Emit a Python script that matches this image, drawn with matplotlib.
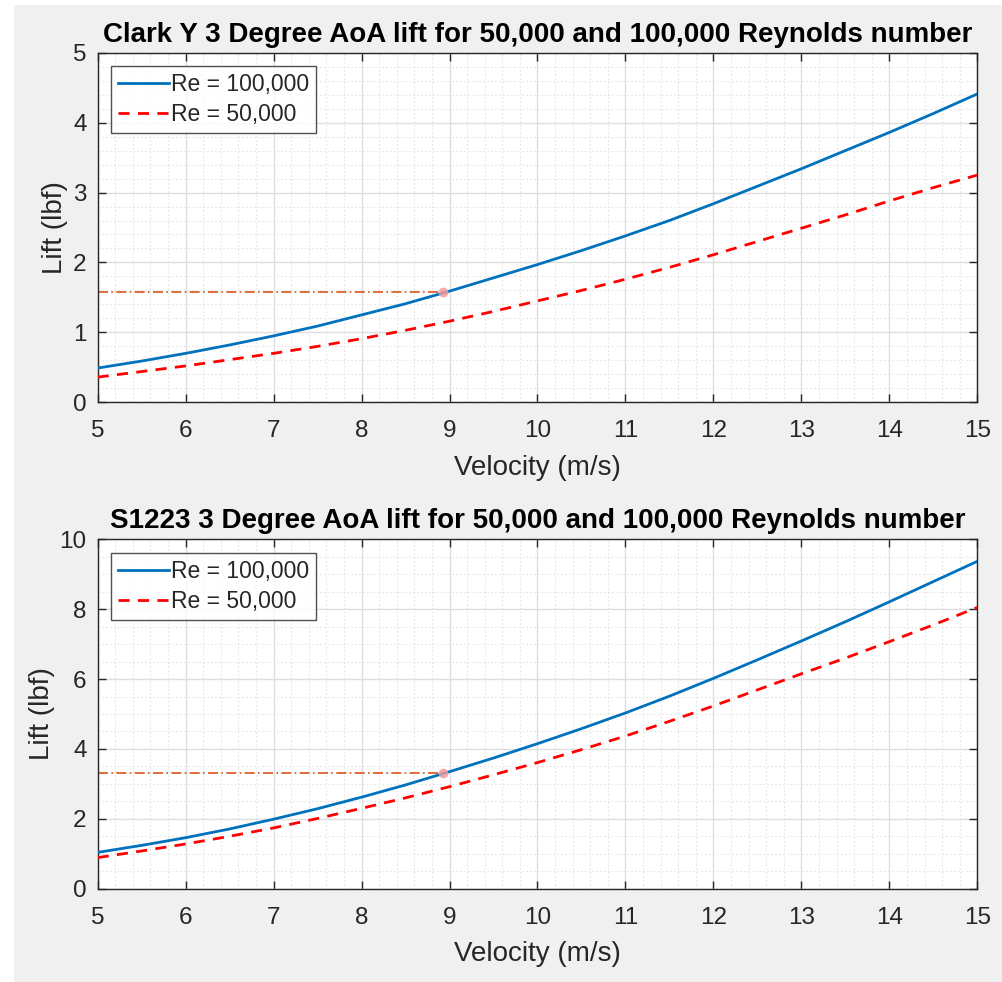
import numpy as np
import matplotlib
matplotlib.use("Agg")
import matplotlib.pyplot as plt
from matplotlib.patches import Rectangle
from matplotlib.ticker import MultipleLocator

plt.rcParams['font.family'] = ['Liberation Sans', 'DejaVu Sans']

# velocity samples (m/s)
velocity = [5.0, 5.5, 6.0, 6.5, 7.0, 7.5, 8.0, 8.5, 9.0, 9.5, 10.0,
            10.5, 11.0, 11.5, 12.0, 12.5, 13.0, 13.5, 14.0, 14.5, 15.0]

# Clark Y lift (lbf)
clark_re100k = [0.49, 0.59, 0.70, 0.82, 0.95, 1.09, 1.25, 1.41, 1.59, 1.78, 1.97,
                2.17, 2.38, 2.60, 2.84, 3.09, 3.34, 3.60, 3.86, 4.13, 4.41]
clark_re50k = [0.36, 0.44, 0.52, 0.61, 0.70, 0.80, 0.91, 1.03, 1.16, 1.30, 1.45,
               1.60, 1.76, 1.93, 2.11, 2.30, 2.49, 2.68, 2.88, 3.07, 3.25]
clark_pt = (8.93, 1.58)

# S1223 lift (lbf)
s1223_re100k = [1.04, 1.24, 1.46, 1.71, 1.99, 2.29, 2.62, 2.97, 3.35, 3.74, 4.15,
                4.58, 5.03, 5.51, 6.02, 6.55, 7.09, 7.64, 8.21, 8.79, 9.37]
s1223_re50k = [0.89, 1.08, 1.28, 1.50, 1.74, 2.01, 2.30, 2.60, 2.92, 3.26, 3.61,
               3.98, 4.37, 4.79, 5.23, 5.69, 6.15, 6.60, 7.07, 7.55, 8.05]
s1223_pt = (8.93, 3.32)

titles = ["Clark Y 3 Degree AoA lift for 50,000 and 100,000 Reynolds number",
          "S1223 3 Degree AoA lift for 50,000 and 100,000 Reynolds number"]

W, H = 1002, 982
fig = plt.figure(figsize=(W / 100, H / 100), dpi=100, facecolor="white")
# MATLAB-ish grey figure background with small white margin top-left
fig.patches.append(Rectangle((14 / W, 0), 1, 1 - 5 / H, transform=fig.transFigure,
                             facecolor="#f0f0f0", edgecolor="none", zorder=-10))

TXT = "#262626"
panels = [
    (titles[0], clark_re100k, clark_re50k, clark_pt, 5, 1, 0.2, 52.7, 402.3),
    (titles[1], s1223_re100k, s1223_re50k, s1223_pt, 10, 2, 0.5, 539.3, 888.7),
]

for title, hi, lo, pt, ymax, ystep, yminor, top, bot in panels:
    ax = fig.add_axes([97.7 / W, 1 - bot / H, (977.3 - 97.7) / W, (bot - top) / H])
    ax.plot(velocity, hi, color="#0072BD", lw=2, label="Re = 100,000", zorder=3)
    ax.plot(velocity, lo, color="#FF0000", lw=2, ls=(0, (4, 3)), label="Re = 50,000", zorder=3)
    ax.plot([5, pt[0]], [pt[1], pt[1]], color="#D95319", lw=1.2, ls=(0, (6, 2, 1, 2)), zorder=2)
    ax.plot(pt[0], pt[1], "o", ms=7, color="#f29a9a", mec="none", alpha=0.85, zorder=4)

    ax.set_xlim(5, 15)
    ax.set_ylim(0, ymax)
    ax.xaxis.set_major_locator(MultipleLocator(1))
    ax.yaxis.set_major_locator(MultipleLocator(ystep))
    ax.xaxis.set_minor_locator(MultipleLocator(0.2))
    ax.yaxis.set_minor_locator(MultipleLocator(yminor))
    ax.grid(True, which="major", color="#dedede", lw=1)
    ax.grid(True, which="minor", color="#e4e4e4", lw=0.8, ls=(0, (1.5, 2)))
    ax.set_axisbelow(True)
    ax.tick_params(which="major", direction="in", top=True, right=True, length=6,
                   width=1, colors=TXT, labelsize=17.5)
    ax.tick_params(axis="x", pad=13)
    ax.tick_params(axis="y", pad=8)
    ax.tick_params(which="minor", length=0)
    for s in ax.spines.values():
        s.set_color(TXT)
        s.set_linewidth(1)

    ax.set_title(title, fontsize=20, fontweight="bold", color="black", pad=8)
    ax.set_xlabel("Velocity (m/s)", fontsize=20, color=TXT, labelpad=9)
    ax.set_ylabel("Lift (lbf)", fontsize=20, color=TXT, labelpad=3.5)
    leg = ax.legend(loc="upper left", fontsize=16.5, frameon=True, fancybox=False,
                    handlelength=2.2, handletextpad=0.1, borderpad=0.3,
                    labelspacing=0.3, borderaxespad=0.6)
    leg.get_frame().set_edgecolor(TXT)
    leg.get_frame().set_linewidth(1)
    for t in leg.get_texts():
        t.set_color(TXT)

fig.savefig("out.png", dpi=100, facecolor=fig.get_facecolor())
